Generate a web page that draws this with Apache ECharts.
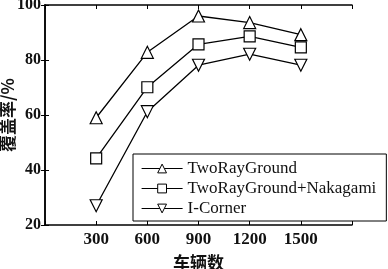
<!DOCTYPE html>
<html><head><meta charset="utf-8">
<script src="https://cdn.jsdelivr.net/npm/echarts@6/dist/echarts.min.js"></script>
<style>html,body{margin:0;padding:0;background:#fff}#c{width:388px;height:269px}</style>
</head><body><div id="c"></div>
<script>
const categories = [300, 600, 900, 1200, 1500];
const seriesNames = ['TwoRayGround', 'TwoRayGround+Nakagami', 'I-Corner'];
const twoRay = [59, 82.8, 96, 93.6, 89.2];
const twoRayNak = [44.2, 70.1, 85.7, 88.6, 84.6];
const iCorner = [27, 61.2, 78.1, 82.1, 78.1];
const xTicks = [300, 600, 900, 1200, 1500];
const yTicks = [20, 40, 60, 80, 100];

const serif = '"Liberation Serif", "DejaVu Serif", serif';
const downTri = 'path://M0,0 L10,0 L5,9 Z';
const upTri = 'path://M5,0 L10,9 L0,9 Z';
function pts(arr){ return categories.map((c,i)=>[c, arr[i]]); }
function mk(name, data, symbol, size){
  return {name, type:'line', data: pts(data), symbol, symbolSize: size,
    lineStyle:{color:'#000', width:1.3}, itemStyle:{color:'#fff', borderColor:'#000', borderWidth:1.2},
    emphasis:{disabled:true}, animation:false, z:2};
}
const chart = echarts.init(document.getElementById('c'), null, {renderer:'canvas'});
const cjk = '"Noto Sans CJK SC", sans-serif';
chart.setOption({
  animation:false,
  grid:{left:45, right:36, top:5, bottom:44, outerBoundsMode:'none', containLabel:false},
  xAxis:[{type:'value', min:0, max:1800, interval:300,
    axisLine:{lineStyle:{color:'#000', width:1.5}}, axisTick:{inside:true, length:4, lineStyle:{color:'#000'}},
    splitLine:{show:false},
    axisLabel:{margin:6, formatter:v=> xTicks.includes(v)? String(v):'', fontFamily: serif, fontSize:17, fontWeight:'bold', color:'#111'},
    name:'车辆数', nameLocation:'middle', nameGap:29, nameMoveOverlap:false,
    nameTextStyle:{fontFamily:cjk, fontSize:17, fontWeight:'bold', color:'#111'}},
   {type:'value', position:'top', min:0, max:1800, interval:300,
    axisLine:{lineStyle:{color:'#000', width:1.5}}, axisTick:{inside:true, length:4, lineStyle:{color:'#000'}},
    axisLabel:{show:false}, splitLine:{show:false}}],
  yAxis:[{type:'value', min:20, max:100, interval:20,
    axisLine:{show:true, lineStyle:{color:'#000', width:1.5}}, axisTick:{show:true, inside:true, length:4, lineStyle:{color:'#000'}},
    splitLine:{show:false},
    axisLabel:{margin:4, formatter:v=> yTicks.includes(v)? String(v):'', fontFamily: serif, fontSize:16, fontWeight:'bold', color:'#111'},
    name:'覆盖率/%', nameLocation:'middle', nameGap:29, nameRotate:90, nameMoveOverlap:false,
    nameTextStyle:{fontFamily:cjk, fontSize:17, fontWeight:'bold', color:'#111'}},
   {type:'value', position:'right', min:20, max:100, interval:20,
    axisLine:{show:true, lineStyle:{color:'#000', width:1.5}}, axisTick:{show:true, inside:true, length:4, lineStyle:{color:'#000'}},
    axisLabel:{show:false}, splitLine:{show:false}}],
  legend:{orient:'vertical', left:133, top:154, padding:[6,10,4,8], itemGap:3,
    itemWidth:41, itemHeight:11, backgroundColor:'#fff', borderColor:'#000', borderWidth:1,
    textStyle:{fontFamily:serif, fontSize:17, color:'#111'}, itemStyle:{color:'#fff', borderColor:'#000', borderWidth:1},
    lineStyle:{color:'#000', width:1.2},
    data: seriesNames, z:10},
  series:[
    mk(seriesNames[0], twoRay, upTri, 12),
    mk(seriesNames[1], twoRayNak, 'rect', 11),
    mk(seriesNames[2], iCorner, downTri, 12)
  ]
});
</script></body></html>
